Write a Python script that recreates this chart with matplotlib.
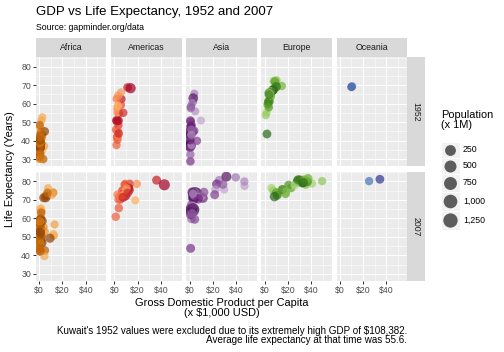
import numpy as np
import matplotlib
matplotlib.use('Agg')
import matplotlib.pyplot as plt
import matplotlib.colors as mcolors
from matplotlib.patches import Rectangle

plt.rcParams['font.family'] = ['Liberation Sans', 'DejaVu Sans']

W, H = 504, 352

continents = ['Africa', 'Americas', 'Asia', 'Europe', 'Oceania']
years = ['1952', '2007']

# gapminder values: GDP per capita in $1,000, life expectancy in years, population in millions
africa_country = ['Algeria', 'Angola', 'Benin', 'Botswana', 'Burkina Faso', 'Burundi', 'Cameroon',
                  'Central African Republic', 'Chad', 'Comoros', 'Congo, Dem. Rep.', 'Congo, Rep.',
                  "Cote d'Ivoire", 'Djibouti', 'Egypt', 'Equatorial Guinea', 'Eritrea', 'Ethiopia',
                  'Gabon', 'Gambia', 'Ghana', 'Guinea', 'Guinea-Bissau', 'Kenya', 'Lesotho', 'Liberia',
                  'Libya', 'Madagascar', 'Malawi', 'Mali', 'Mauritania', 'Mauritius', 'Morocco',
                  'Mozambique', 'Namibia', 'Niger', 'Nigeria', 'Reunion', 'Rwanda',
                  'Sao Tome and Principe', 'Senegal', 'Sierra Leone', 'Somalia', 'South Africa',
                  'Sudan', 'Swaziland', 'Tanzania', 'Togo', 'Tunisia', 'Uganda', 'Zambia', 'Zimbabwe']
africa_gdp52 = [2.45, 3.52, 1.06, 0.85, 0.54, 0.34, 1.17, 1.07, 1.18, 1.10, 0.78, 2.13, 1.39, 2.67,
                1.42, 0.38, 0.33, 0.36, 4.29, 0.49, 0.91, 0.51, 0.30, 0.85, 0.30, 0.58, 2.39, 1.44,
                0.37, 0.45, 0.74, 1.97, 1.69, 0.47, 2.42, 0.76, 1.08, 2.72, 0.49, 0.88, 1.45, 0.88,
                1.14, 4.73, 1.62, 1.15, 0.72, 0.86, 1.47, 0.73, 1.15, 0.41]
africa_life52 = [43.1, 30.0, 38.2, 47.6, 32.0, 39.0, 38.5, 35.5, 38.1, 40.7, 39.1, 42.1, 40.5, 34.8,
                 41.9, 34.5, 35.9, 34.1, 37.0, 30.0, 43.1, 34.0, 32.5, 42.3, 42.1, 38.5, 42.7, 36.7,
                 36.3, 33.7, 40.5, 51.0, 42.9, 31.3, 41.7, 37.4, 36.3, 52.7, 40.0, 46.5, 37.3, 30.3,
                 33.0, 45.0, 38.6, 41.4, 41.2, 38.6, 44.6, 40.0, 42.0, 48.5]
africa_pop52 = [9.28, 4.23, 1.74, 0.44, 4.47, 2.45, 5.01, 1.29, 2.68, 0.15, 14.1, 0.85, 2.98, 0.06,
                22.2, 0.22, 1.44, 20.9, 0.42, 0.28, 5.58, 2.66, 0.58, 6.46, 0.75, 0.86, 1.02, 4.76,
                2.92, 3.84, 1.02, 0.52, 9.94, 6.45, 0.49, 3.38, 33.1, 0.26, 2.53, 0.06, 2.76, 2.14,
                2.53, 14.3, 8.5, 0.29, 8.32, 1.22, 3.65, 5.82, 2.67, 3.08]
africa_gdp07 = [6.22, 4.80, 1.44, 12.57, 1.22, 0.43, 2.04, 0.71, 1.70, 0.99, 0.28, 3.63, 1.54, 2.08,
                5.58, 12.15, 0.64, 0.69, 13.21, 0.75, 1.33, 0.94, 0.58, 1.46, 1.57, 0.41, 12.06, 1.04,
                0.76, 1.04, 1.80, 10.96, 3.82, 0.82, 4.81, 0.62, 2.01, 7.67, 0.86, 1.60, 1.71, 0.86,
                0.93, 9.27, 2.60, 4.51, 1.11, 0.88, 7.09, 1.06, 1.27, 0.47]
africa_life07 = [72.3, 42.7, 56.7, 50.7, 52.3, 49.6, 50.4, 44.7, 50.7, 65.2, 46.5, 55.3, 48.3, 54.8,
                 71.3, 51.6, 58.0, 52.9, 56.7, 59.4, 60.0, 56.0, 46.4, 54.1, 42.6, 45.7, 74.0, 59.4,
                 48.3, 54.5, 64.2, 72.8, 71.2, 42.1, 52.9, 56.9, 46.9, 76.4, 46.2, 65.5, 63.1, 42.6,
                 48.2, 49.3, 58.6, 39.6, 52.5, 58.4, 73.9, 51.5, 42.4, 43.5]
africa_pop07 = [33.3, 12.4, 8.08, 1.64, 14.3, 8.39, 17.7, 4.37, 10.2, 0.71, 64.6, 3.80, 18.0, 0.50,
                80.3, 0.55, 4.91, 76.5, 1.45, 1.69, 22.9, 9.95, 1.47, 35.6, 2.01, 3.19, 6.04, 19.2,
                13.3, 12.0, 3.27, 1.25, 33.8, 19.95, 2.06, 12.9, 135.0, 0.80, 8.86, 0.20, 12.3, 6.14,
                9.12, 44.0, 42.3, 1.13, 38.1, 5.70, 10.3, 29.2, 11.7, 12.3]

americas_country = ['Argentina', 'Bolivia', 'Brazil', 'Canada', 'Chile', 'Colombia', 'Costa Rica',
                    'Cuba', 'Dominican Republic', 'Ecuador', 'El Salvador', 'Guatemala', 'Haiti',
                    'Honduras', 'Jamaica', 'Mexico', 'Nicaragua', 'Panama', 'Paraguay', 'Peru',
                    'Puerto Rico', 'Trinidad and Tobago', 'United States', 'Uruguay', 'Venezuela']
americas_gdp52 = [5.91, 2.68, 2.11, 11.37, 3.94, 2.14, 2.63, 5.59, 1.40, 3.52, 3.05, 2.43, 1.84,
                  2.19, 2.90, 3.48, 3.11, 2.48, 1.95, 3.76, 3.08, 3.02, 13.99, 5.72, 7.69]
americas_life52 = [62.5, 40.4, 50.9, 68.8, 54.7, 50.6, 57.2, 59.4, 45.9, 48.4, 45.3, 42.0, 37.6,
                   41.9, 58.5, 50.8, 42.3, 55.2, 62.6, 43.9, 64.3, 59.1, 68.4, 66.1, 55.1]
americas_pop52 = [17.9, 2.88, 56.6, 14.8, 6.38, 12.4, 0.93, 6.0, 2.49, 3.55, 2.04, 3.15, 3.2,
                  1.52, 1.43, 30.1, 1.17, 0.94, 1.56, 8.03, 2.23, 0.66, 157.6, 2.25, 5.44]
americas_gdp07 = [12.78, 3.82, 9.07, 36.32, 13.17, 7.01, 9.65, 8.95, 6.03, 6.87, 5.73, 5.19, 1.20,
                  3.55, 7.32, 11.98, 2.75, 9.81, 4.17, 7.41, 19.33, 18.01, 42.95, 10.61, 11.42]
americas_life07 = [75.3, 65.6, 72.4, 80.7, 78.6, 72.9, 78.8, 78.3, 72.2, 75.0, 71.9, 70.3, 60.9,
                   70.2, 72.6, 76.2, 72.9, 75.5, 71.8, 71.4, 78.7, 69.8, 78.2, 76.4, 73.7]
americas_pop07 = [40.3, 9.12, 190.0, 33.4, 16.3, 44.2, 4.13, 11.4, 9.32, 13.8, 6.94, 12.6, 8.5,
                  7.48, 2.78, 108.7, 5.68, 3.24, 6.67, 28.7, 3.94, 1.06, 301.1, 3.45, 26.1]

# Kuwait 1952 is left out (None)
asia_country = ['Afghanistan', 'Bahrain', 'Bangladesh', 'Cambodia', 'China', 'Hong Kong, China',
                'India', 'Indonesia', 'Iran', 'Iraq', 'Israel', 'Japan', 'Jordan', 'Korea, Dem. Rep.',
                'Korea, Rep.', 'Kuwait', 'Lebanon', 'Malaysia', 'Mongolia', 'Myanmar', 'Nepal', 'Oman',
                'Pakistan', 'Philippines', 'Saudi Arabia', 'Singapore', 'Sri Lanka', 'Syria', 'Taiwan',
                'Thailand', 'Vietnam', 'West Bank and Gaza', 'Yemen, Rep.']
asia_gdp52 = [0.78, 9.87, 0.68, 0.37, 0.40, 3.05, 0.55, 0.75, 3.04, 4.13, 4.09, 3.22, 1.55, 1.09,
              1.03, None, 4.83, 1.83, 0.79, 0.33, 0.55, 1.83, 0.68, 1.27, 6.46, 2.32, 1.08, 1.64,
              1.21, 0.76, 0.61, 1.52, 0.78]
asia_life52 = [28.8, 50.9, 37.5, 39.4, 44.0, 61.0, 37.4, 37.5, 44.9, 45.3, 65.4, 63.0, 43.2, 50.1,
               47.5, None, 55.9, 48.5, 42.2, 36.3, 36.2, 37.6, 43.4, 47.8, 39.9, 60.4, 57.6, 45.9,
               58.5, 50.8, 40.4, 43.2, 32.5]
asia_pop52 = [8.43, 0.12, 46.9, 4.69, 556.3, 2.13, 372.0, 82.1, 17.3, 5.44, 1.62, 86.5, 0.61, 8.87,
              20.9, None, 1.44, 6.75, 0.80, 20.1, 9.18, 0.51, 41.3, 22.4, 4.01, 1.13, 7.98, 3.66,
              8.55, 21.3, 26.2, 1.03, 4.96]
asia_gdp07 = [0.97, 29.80, 1.39, 1.71, 4.96, 39.73, 2.45, 3.54, 11.61, 4.47, 25.52, 31.66, 4.52,
              1.59, 23.35, 47.31, 10.46, 12.45, 3.10, 0.94, 1.09, 22.32, 2.61, 3.19, 21.65, 47.14,
              3.97, 4.18, 28.72, 7.46, 2.44, 3.03, 2.28]
asia_life07 = [43.8, 75.6, 64.1, 59.7, 73.0, 82.2, 64.7, 70.7, 71.0, 59.5, 80.7, 82.6, 72.5, 67.3,
               78.6, 77.6, 72.0, 74.2, 66.8, 62.1, 63.8, 75.6, 65.5, 71.7, 72.8, 80.0, 72.4, 74.1,
               78.4, 70.6, 74.2, 73.4, 62.7]
asia_pop07 = [31.9, 0.71, 150.4, 14.1, 1318.7, 6.98, 1110.4, 223.5, 69.5, 27.5, 6.43, 127.5, 6.05,
              23.3, 49.0, 2.51, 3.92, 24.8, 2.87, 47.8, 28.9, 3.20, 169.3, 91.1, 27.6, 4.55, 20.4,
              19.3, 23.2, 65.1, 85.3, 4.02, 22.2]

europe_country = ['Albania', 'Austria', 'Belgium', 'Bosnia and Herzegovina', 'Bulgaria', 'Croatia',
                  'Czech Republic', 'Denmark', 'Finland', 'France', 'Germany', 'Greece', 'Hungary',
                  'Iceland', 'Ireland', 'Italy', 'Montenegro', 'Netherlands', 'Norway', 'Poland',
                  'Portugal', 'Romania', 'Serbia', 'Slovak Republic', 'Slovenia', 'Spain', 'Sweden',
                  'Switzerland', 'Turkey', 'United Kingdom']
europe_gdp52 = [1.60, 6.14, 8.34, 0.97, 2.44, 3.12, 6.88, 9.69, 6.42, 7.03, 7.14, 3.53, 5.26, 7.27,
                5.21, 4.93, 2.65, 8.94, 10.10, 4.03, 3.07, 3.14, 3.58, 5.07, 4.22, 3.83, 8.53, 14.73,
                1.97, 9.98]
europe_life52 = [55.2, 66.8, 68.0, 53.8, 59.6, 61.2, 66.9, 70.8, 66.55, 67.4, 67.5, 65.9, 64.0,
                 72.5, 66.9, 65.9, 59.2, 72.1, 72.7, 61.3, 59.8, 61.05, 58.0, 64.4, 65.6, 64.9, 71.9,
                 69.6, 43.6, 69.2]
europe_pop52 = [1.28, 6.93, 8.73, 2.79, 7.27, 3.88, 9.13, 4.33, 4.09, 42.5, 69.1, 7.73, 9.5, 0.15,
                2.95, 47.7, 0.41, 10.4, 3.33, 25.7, 8.53, 16.6, 6.86, 3.56, 1.49, 28.5, 7.12, 4.82,
                22.2, 50.4]
europe_gdp07 = [5.94, 36.13, 33.69, 7.45, 10.68, 14.62, 22.83, 35.28, 33.21, 30.47, 32.17, 27.54,
                18.01, 36.18, 40.68, 28.57, 9.25, 36.80, 49.36, 15.39, 20.51, 10.81, 9.79, 18.68,
                25.77, 28.82, 33.86, 37.51, 8.46, 33.20]
europe_life07 = [76.4, 79.8, 79.4, 74.9, 73.0, 75.7, 76.5, 78.3, 79.3, 80.7, 79.4, 79.5, 73.3, 81.8,
                 78.9, 80.5, 74.5, 79.8, 80.2, 75.6, 78.1, 72.5, 74.0, 74.7, 77.9, 80.9, 80.9, 81.7,
                 71.8, 79.4]
europe_pop07 = [3.6, 8.2, 10.4, 4.55, 7.32, 4.49, 10.2, 5.47, 5.24, 61.1, 82.4, 10.7, 9.96, 0.30,
                4.11, 58.1, 0.68, 16.6, 4.63, 38.5, 10.6, 22.3, 10.2, 5.45, 2.01, 40.4, 9.03, 7.55,
                71.2, 60.8]

oceania_country = ['Australia', 'New Zealand']
oceania_gdp52 = [10.04, 10.56]
oceania_life52 = [69.1, 69.4]
oceania_pop52 = [8.69, 1.99]
oceania_gdp07 = [34.44, 25.19]
oceania_life07 = [81.2, 80.2]
oceania_pop07 = [20.4, 4.12]

# colour anchors per continent (dark = most populous in 2007)
anchors = {
    'Africa': ['#7F3B08', '#B35806', '#E08214', '#FDB863'],
    'Americas': ['#A50026', '#D73027', '#F46D43', '#FDAE61'],
    'Asia': ['#40004B', '#762A83', '#9970AB', '#C2A5CF'],
    'Europe': ['#276419', '#4D9221', '#7FBC41', '#B8E186'],
    'Oceania': ['#313695', '#4575B4'],
}

size_breaks = [250, 500, 750, 1000, 1250]
size_labels = ['250', '500', '750', '1,000', '1,250']

data = {
    'Africa': (africa_gdp52, africa_life52, africa_pop52, africa_gdp07, africa_life07, africa_pop07),
    'Americas': (americas_gdp52, americas_life52, americas_pop52, americas_gdp07, americas_life07, americas_pop07),
    'Asia': (asia_gdp52, asia_life52, asia_pop52, asia_gdp07, asia_life07, asia_pop07),
    'Europe': (europe_gdp52, europe_life52, europe_pop52, europe_gdp07, europe_life07, europe_pop07),
    'Oceania': (oceania_gdp52, oceania_life52, oceania_pop52, oceania_gdp07, oceania_life07, oceania_pop07),
}

POP_MAX = 1318.7


def ramp(cols, n):
    rgb = np.array([mcolors.to_rgb(c) for c in cols])
    pos = np.linspace(0, 1, len(cols))
    t = np.linspace(0, 1, n)
    return np.column_stack([np.interp(t, pos, rgb[:, k]) for k in range(3)])


def marker_area(pop):
    d = 8.0 + 6.5 * np.sqrt(np.asarray(pop, dtype=float) / POP_MAX)
    return d ** 2


def px_box(x, y, w, h):
    return [x / W, 1 - (y + h) / H, w / W, h / H]


fig = plt.figure(figsize=(W / 72, H / 72), dpi=72)
fig.patch.set_facecolor('white')

panel_w, panel_h = 70.4, 109.3
col_step = 75.15
row_top = [57.0, 171.7]
x0 = 36.0

for ci, cont in enumerate(continents):
    gdp52, life52, pop52, gdp07, life07, pop07 = data[cont]
    n = len(pop07)
    order = np.argsort(-np.array(pop07))
    pal = ramp(anchors[cont], n)
    cols = np.zeros((n, 3))
    cols[order] = pal

    left = x0 + ci * col_step
    # strip on top
    sax = fig.add_axes(px_box(left, 38.0, panel_w, 19.0))
    sax.set_facecolor('#D9D9D9')
    sax.set_xticks([]); sax.set_yticks([])
    for s in sax.spines.values():
        s.set_visible(False)
    sax.text(0.5, 0.5, cont, ha='center', va='center', fontsize=8.8, color='#1A1A1A',
             transform=sax.transAxes)

    for ri, yr in enumerate(years):
        ax = fig.add_axes(px_box(left, row_top[ri], panel_w, panel_h))
        ax.set_facecolor('#EBEBEB')
        for s in ax.spines.values():
            s.set_visible(False)
        ax.set_xlim(-2.75, 57.75)
        ax.set_ylim(26.11, 85.29)
        ax.set_xticks([0, 20, 40])
        ax.set_xticks([10, 30, 50], minor=True)
        ax.set_yticks([30, 40, 50, 60, 70, 80])
        ax.set_yticks([35, 45, 55, 65, 75, 85], minor=True)
        ax.grid(which='major', color='white', linewidth=1.07)
        ax.grid(which='minor', color='white', linewidth=0.53)
        ax.set_axisbelow(True)
        ax.tick_params(which='minor', length=0)
        ax.tick_params(which='major', length=2.75, width=1.0, color='#333333',
                       labelsize=8.8, labelcolor='#4D4D4D', pad=2.2)
        ax.set_xticklabels(['$0', '$20', '$40'])
        if ri == 0:
            ax.tick_params(axis='x', which='major', length=0, labelbottom=False)
        if ci > 0:
            ax.tick_params(axis='y', which='major', length=0, labelleft=False)

        if yr == '1952':
            gx, ly, pp = gdp52, life52, pop52
        else:
            gx, ly, pp = gdp07, life07, pop07
        keep = [i for i in range(n) if gx[i] is not None]
        ax.scatter([gx[i] for i in keep], [ly[i] for i in keep],
                   s=marker_area([pp[i] for i in keep]), c=cols[keep],
                   alpha=0.7, linewidths=0)

        if ci == len(continents) - 1:
            rax = fig.add_axes(px_box(left + panel_w, row_top[ri], 17.5, panel_h))
            rax.set_facecolor('#D9D9D9')
            rax.set_xticks([]); rax.set_yticks([])
            for s in rax.spines.values():
                s.set_visible(False)
            rax.text(0.5, 0.5, yr, ha='center', va='center', rotation=-90, fontsize=8.8,
                     color='#1A1A1A', transform=rax.transAxes)

# overlay in pixel coordinates for titles, labels and legend
ov = fig.add_axes([0, 0, 1, 1])
ov.set_xlim(0, W)
ov.set_ylim(H, 0)
ov.axis('off')
ov.patch.set_alpha(0)

ov.text(36, 15.5, 'GDP vs Life Expectancy, 1952 and 2007', fontsize=13.2, va='baseline')
ov.text(36, 29.5, 'Source: gapminder.org/data', fontsize=8.8, va='baseline')
ov.text(10.5, 169, 'Life Expectancy (Years)', fontsize=11, rotation=90, ha='center', va='center')
panel_mid = (x0 + x0 + 4 * col_step + panel_w) / 2
ov.text(panel_mid, 298, 'Gross Domestic Product per Capita\n(x $1,000 USD)', fontsize=11,
        ha='center', va='top', multialignment='center', linespacing=0.95)
ov.text(x0 + 4 * col_step + panel_w, 325.5,
        "Kuwait's 1952 values were excluded due to its extremely high GDP of $108,382.\n"
        "Average life expectancy at that time was 55.6.",
        fontsize=9.9, ha='right', va='top', multialignment='right', linespacing=0.95)

# size legend
ov.text(441, 110, 'Population\n(x 1M)', fontsize=11, ha='left', va='top', linespacing=0.95)
key_edges = [142.0, 157.8, 174.0, 191.6, 210.5, 229.5]
for k, (b, lab) in enumerate(zip(size_breaks, size_labels)):
    top, bot = key_edges[k], key_edges[k + 1]
    ov.add_patch(Rectangle((440.5, top), 19, bot - top, facecolor='#F2F2F2',
                           edgecolor='white', linewidth=1))
    cy = (top + bot) / 2
    ov.scatter([450], [cy], s=marker_area([b]), c='black', alpha=0.62, linewidths=0)
    ov.text(463, cy, lab, fontsize=8.8, ha='left', va='center')

fig.savefig('out.png', dpi=72)
